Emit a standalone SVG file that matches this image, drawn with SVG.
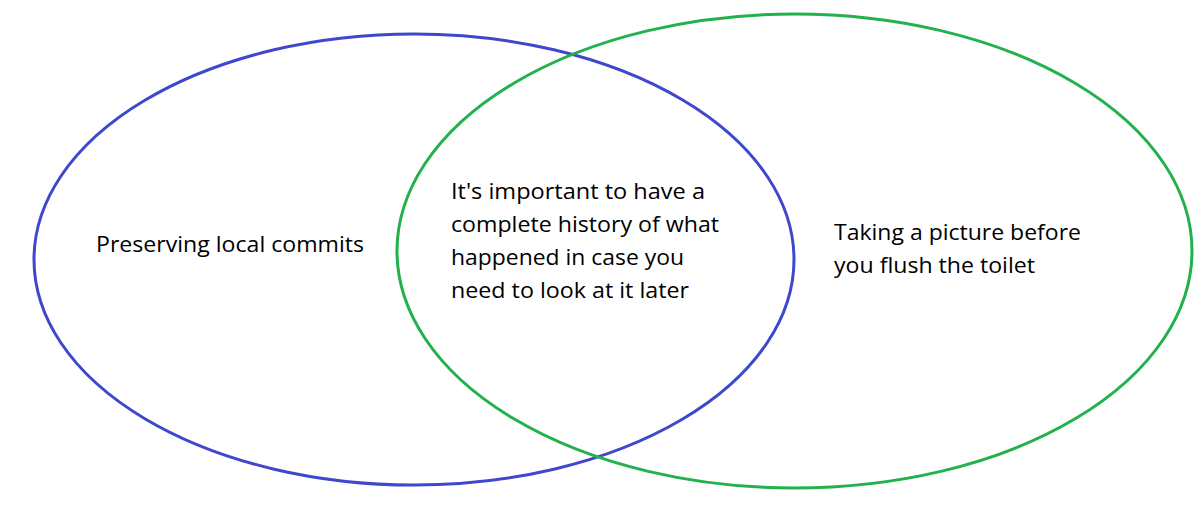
<svg xmlns="http://www.w3.org/2000/svg" width="1200" height="507" viewBox="0 0 1200 507">
<style>
.bg{fill:#ffffff}
.ring{fill:none;stroke-width:3}
.blue{stroke:#3f48cc}
.green{stroke:#22b14c}
text{font-family:"Open Sans","Noto Sans","Liberation Sans",sans-serif;font-size:22px;fill:#000000}
</style>
<rect class="bg" x="0" y="0" width="1200" height="507"/>
<g id="set-left">
<ellipse class="ring blue" cx="414" cy="259.5" rx="380" ry="225.5"/>
<text x="96" y="252" textLength="268" lengthAdjust="spacingAndGlyphs">Preserving local commits</text>
</g>
<g id="set-right">
<ellipse class="ring green" cx="794.5" cy="251" rx="397.5" ry="237"/>
<text x="834" y="240" textLength="247" lengthAdjust="spacingAndGlyphs">Taking a picture before</text>
<text x="834" y="273" textLength="201" lengthAdjust="spacingAndGlyphs">you flush the toilet</text>
</g>
<g id="intersection">
<text x="451" y="199" textLength="254" lengthAdjust="spacingAndGlyphs">It's important to have a</text>
<text x="451" y="232" textLength="268" lengthAdjust="spacingAndGlyphs">complete history of what</text>
<text x="451" y="265" textLength="233" lengthAdjust="spacingAndGlyphs">happened in case you</text>
<text x="451" y="298" textLength="238" lengthAdjust="spacingAndGlyphs">need to look at it later</text>
</g>
<g id="connectors"></g>
</svg>
